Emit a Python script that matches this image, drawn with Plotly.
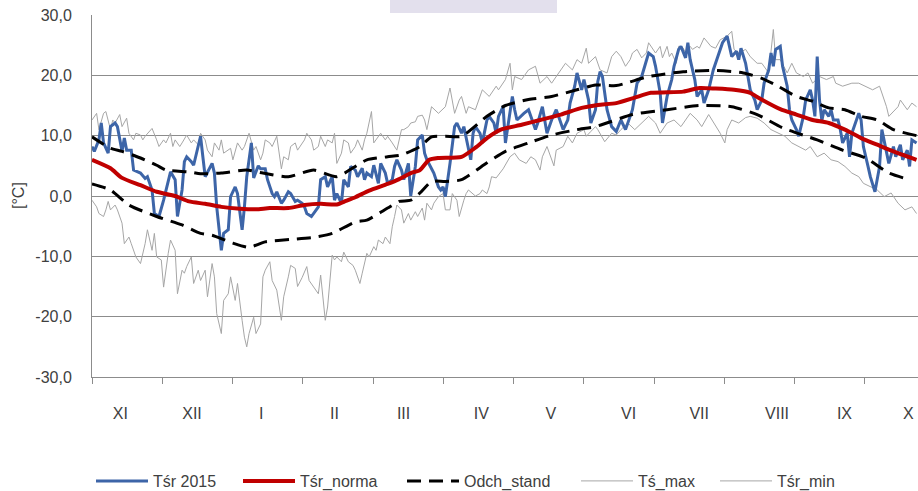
import plotly.graph_objects as go

# ---- data: day of hydrological year (0 = 1 Nov 2014) and temperature [°C] ----
tsr_2015 = [(0, 8.2), (1, 7.4), (3, 9.3), (4, 12.1), (5, 8.8), (7, 7.1), (8, 11.5), (10, 12.1), (11, 11.5),
            (13, 7.4), (14, 9.6), (15, 7.6), (17, 7.6), (18, 4.3), (21, 3.8), (23, 2.9), (24, 3.2), (26, 1.0),
            (27, -2.9), (29, -3.4), (31, -0.7), (34, 4.0), (36, 2.7), (37, -3.4), (39, 1.0), (40, 5.7), (41, 6.5),
            (43, 5.7), (44, 5.1), (47, 9.9), (48, 6.5), (49, 3.2), (52, 5.4), (53, 3.8), (54, -1.8), (56, -9.0),
            (57, -6.2), (59, -5.6), (60, -0.1), (62, 1.5), (63, 0.4), (65, -5.6), (66, -1.8), (67, 3.2), (69, 8.8),
            (70, 3.0), (72, 5.0), (73, 4.5), (75, 4.5), (76, 2.7), (78, 0.4), (79, -0.1), (80, 0.7), (82, -1.2),
            (83, -0.7), (85, 0.7), (86, 0.4), (88, -0.9), (89, -0.7), (91, -1.2), (92, -1.8), (93, -2.9), (95, -3.4),
            (96, -2.9), (98, -1.8), (99, 2.7), (101, 3.2), (102, 1.5), (104, 3.2), (105, -0.7), (106, 0.4),
            (108, -1.2), (109, 2.7), (111, 1.5), (112, 4.9), (114, 4.3), (115, 3.2), (117, 4.6), (118, 2.7),
            (119, 3.8), (121, 3.2), (122, 5.1), (124, 2.1), (125, 5.4), (127, 3.8), (128, 2.1), (130, 2.7),
            (131, 4.9), (132, 6.0), (134, 4.3), (135, 2.7), (137, 5.4), (138, 0.0), (140, 4.9), (141, 9.3),
            (143, 10.1), (144, 7.1), (145, 6.0), (148, 3.8), (150, 1.5), (151, 1.0), (152, 1.5), (153, -0.1),
            (155, 5.4), (157, 11.5), (158, 12.1), (160, 10.4), (161, 11.5), (163, 8.2), (164, 6.0), (165, 10.4),
            (166, 11.5), (168, 10.4), (169, 8.8), (171, 12.6), (172, 13.2), (174, 12.1), (175, 10.4), (176, 13.2),
            (178, 14.8), (179, 8.8), (181, 14.3), (182, 16.5), (183, 14.3), (184, 12.6), (187, 13.7), (189, 14.3),
            (190, 13.2), (192, 11.0), (193, 12.1), (195, 14.8), (196, 12.6), (197, 10.4), (199, 12.6), (201, 14.3),
            (202, 13.2), (204, 11.0), (206, 12.6), (207, 15.4), (209, 18.2), (210, 20.4), (212, 17.6), (213, 19.3),
            (215, 15.9), (216, 12.1), (218, 14.3), (219, 19.0), (220, 20.6), (221, 19.8), (223, 14.3), (225, 11.5),
            (227, 10.7), (229, 12.6), (231, 11.0), (234, 14.3), (236, 18.7), (238, 19.8), (241, 23.7), (243, 23.1),
            (244, 21.5), (246, 17.1), (247, 12.1), (248, 14.3), (249, 16.5), (251, 19.3), (252, 21.5), (254, 24.3),
            (255, 24.8), (257, 22.9), (258, 25.4), (259, 22.6), (261, 19.3), (262, 16.5), (264, 17.6), (265, 15.4),
            (267, 17.6), (269, 20.9), (271, 23.1), (273, 25.4), (275, 26.5), (276, 24.8), (277, 23.1), (279, 24.0),
            (280, 22.6), (281, 24.5), (283, 22.0), (284, 19.8), (285, 17.6), (287, 15.9), (288, 14.3), (290, 15.9),
            (291, 18.7), (293, 20.9), (294, 23.7), (295, 21.5), (296, 24.3), (298, 24.8), (299, 21.5), (301, 18.2),
            (302, 14.3), (303, 12.6), (305, 11.0), (306, 9.9), (308, 13.2), (309, 15.9), (311, 17.6), (312, 15.9),
            (313, 13.2), (314, 23.1), (315, 15.9), (316, 12.5), (317, 14.3), (319, 13.2), (320, 14.3), (321, 12.6),
            (323, 12.6), (324, 11.0), (325, 8.8), (327, 10.4), (328, 6.5), (329, 10.4), (332, 13.7), (333, 12.6),
            (334, 8.2), (336, 4.9), (337, 3.2), (339, 0.7), (340, 3.2), (341, 4.9), (342, 11.0), (344, 7.1),
            (345, 5.4), (347, 8.2), (348, 6.5), (350, 8.5), (351, 6.0), (353, 7.6), (354, 4.9), (355, 9.3),
            (357, 8.8)]

tsr_norma = [(0, 6.0), (8, 4.6), (13, 3.0), (21, 1.8), (28, 0.7), (36, 0.0), (42, -0.9), (49, -1.3), (56, -1.8),
             (64, -2.1), (71, -2.2), (77, -2.0), (85, -2.0), (92, -1.5), (99, -1.3), (106, -1.4), (110, -0.8),
             (114, -0.2), (120, 0.9), (128, 2.0), (133, 2.8), (138, 3.8), (142, 4.3), (146, 6.0), (150, 6.3),
             (160, 6.5), (166, 8.0), (171, 9.6), (177, 11.0), (186, 11.8), (194, 12.6), (203, 13.5), (212, 14.6),
             (219, 15.1), (227, 15.4), (235, 16.3), (242, 17.1), (256, 17.3), (263, 17.9), (270, 17.8), (278, 17.6),
             (285, 17.1), (288, 16.4), (298, 14.4), (305, 13.5), (312, 12.6), (319, 12.1), (326, 11.0), (333, 9.6),
             (340, 8.5), (347, 7.4), (357, 6.0)]

odch_gorne = [(0, 9.8), (8, 7.9), (13, 7.4), (21, 6.3), (28, 5.1), (32, 4.3), (42, 4.0), (47, 3.7), (56, 3.8),
              (67, 4.3), (74, 3.8), (85, 3.2), (96, 4.3), (106, 3.2), (114, 4.9), (119, 6.0), (128, 6.5),
              (134, 6.8), (142, 8.2), (147, 9.8), (153, 9.9), (160, 9.9), (171, 13.2), (179, 15.0), (189, 16.0),
              (199, 16.5), (210, 17.6), (218, 18.4), (227, 18.3), (241, 19.8), (256, 20.6), (270, 20.8),
              (282, 20.4), (290, 19.5), (297, 18.2), (305, 16.5), (312, 15.7), (319, 14.6), (326, 14.3),
              (333, 13.2), (340, 12.6), (347, 11.0), (357, 10.0)]

odch_dolne = [(0, 2.0), (8, 1.0), (16, -1.5), (28, -3.4), (39, -4.8), (47, -6.2), (52, -6.5), (61, -7.8),
              (68, -8.5), (75, -7.6), (86, -7.2), (97, -6.8), (104, -6.2), (114, -4.3), (119, -4.0), (128, -2.0),
              (133, -0.9), (138, -0.7), (142, 0.5), (147, 2.4), (153, 2.4), (160, 2.7), (171, 5.5), (179, 7.4),
              (189, 8.8), (199, 10.1), (210, 11.0), (218, 11.5), (234, 13.5), (249, 14.3), (263, 15.0),
              (277, 14.8), (288, 13.5), (299, 11.3), (314, 9.3), (325, 7.6), (335, 6.3), (345, 3.8), (354, 2.7)]

ts_max = [(0, 12.6), (2, 13.7), (3, 11.0), (5, 13.7), (6, 14.0), (8, 11.0), (9, 12.6), (10, 12.1), (12, 13.5),
          (13, 11.5), (15, 12.9), (16, 10.4), (18, 9.3), (19, 10.4), (21, 10.1), (22, 9.3), (23, 9.9), (26, 11.2),
          (28, 9.3), (29, 8.2), (31, 9.3), (32, 8.8), (34, 10.4), (35, 8.2), (36, 9.3), (38, 8.2), (39, 8.8),
          (41, 10.1), (43, 8.8), (44, 9.3), (46, 8.5), (47, 10.4), (49, 9.3), (50, 7.6), (52, 6.5), (53, 8.8),
          (55, 7.6), (56, 9.3), (57, 7.1), (60, 7.9), (61, 6.0), (63, 8.8), (65, 7.6), (66, 8.2), (68, 10.4),
          (70, 7.6), (71, 8.2), (73, 6.0), (74, 7.1), (75, 9.3), (77, 8.8), (78, 8.2), (80, 9.9), (82, 4.5),
          (83, 6.5), (85, 6.0), (86, 8.2), (88, 8.8), (89, 7.6), (91, 8.8), (92, 9.3), (93, 10.4), (95, 9.3),
          (96, 7.6), (98, 8.2), (99, 9.9), (101, 8.2), (102, 9.3), (104, 8.8), (105, 10.4), (106, 5.4), (108, 7.1),
          (109, 9.3), (111, 8.8), (112, 7.1), (114, 8.2), (115, 9.3), (117, 7.6), (118, 9.3), (119, 10.4),
          (121, 14.0), (122, 8.8), (124, 9.9), (125, 10.4), (127, 9.3), (128, 9.9), (130, 8.8), (131, 8.2),
          (132, 7.6), (134, 11.0), (135, 11.0), (137, 11.5), (138, 12.1), (140, 12.3), (141, 13.2), (143, 13.4),
          (144, 12.6), (145, 11.0), (147, 14.8), (150, 13.7), (153, 14.8), (155, 17.9), (157, 13.7), (159, 15.9),
          (160, 16.5), (162, 13.7), (163, 14.8), (166, 14.3), (169, 17.6), (172, 16.5), (175, 18.2), (176, 17.6),
          (179, 19.3), (181, 22.0), (182, 17.6), (183, 19.8), (186, 19.3), (189, 20.9), (192, 21.5), (194, 18.7),
          (197, 19.8), (199, 18.7), (202, 20.4), (205, 22.0), (208, 20.9), (210, 22.6), (212, 22.0), (214, 24.5),
          (215, 22.0), (218, 23.1), (220, 20.9), (223, 20.4), (225, 23.1), (227, 24.0), (229, 23.1), (231, 21.5),
          (233, 22.6), (234, 23.7), (236, 24.3), (238, 22.9), (240, 23.7), (241, 25.4), (244, 23.7), (246, 24.8),
          (247, 22.9), (249, 24.8), (250, 23.1), (251, 23.7), (253, 22.0), (254, 24.8), (256, 24.5), (257, 23.7),
          (259, 24.8), (260, 24.3), (262, 24.8), (263, 24.5), (265, 26.2), (268, 24.8), (270, 24.5), (272, 25.9),
          (275, 26.5), (277, 27.3), (278, 24.3), (280, 23.7), (283, 24.3), (285, 23.1), (288, 22.0), (290, 22.0),
          (293, 20.4), (294, 23.7), (295, 27.6), (296, 22.6), (298, 22.6), (301, 20.4), (303, 22.0), (305, 20.4),
          (308, 19.8), (310, 20.4), (312, 18.7), (315, 19.8), (318, 19.3), (321, 19.8), (322, 18.7), (325, 18.2),
          (329, 18.7), (332, 18.7), (335, 18.2), (338, 17.6), (341, 18.2), (344, 14.8), (345, 13.2), (348, 14.3),
          (349, 14.8), (350, 15.9), (353, 14.3), (355, 15.4), (357, 14.8)]

tsr_min = [(0, -0.7), (2, -1.8), (3, -2.9), (5, -3.4), (6, -2.3), (7, -0.9), (8, -2.3), (10, -1.5), (11, -2.3),
           (13, -4.5), (14, -7.9), (16, -6.8), (17, -7.9), (19, -10.1), (21, -11.2), (23, -7.9), (24, -5.6),
           (26, -9.0), (27, -6.2), (28, -10.1), (30, -10.6), (31, -15.1), (33, -9.5), (34, -7.3), (36, -9.0),
           (37, -16.2), (39, -12.3), (40, -12.8), (41, -11.7), (43, -10.1), (44, -14.5), (46, -12.3), (47, -14.0),
           (49, -12.3), (50, -16.7), (52, -11.2), (53, -13.4), (54, -19.5), (56, -22.8), (57, -17.3), (59, -16.2),
           (60, -13.4), (62, -17.3), (63, -14.5), (65, -20.6), (66, -23.4), (67, -25.0), (68, -22.8), (70, -20.1),
           (71, -22.8), (73, -21.2), (74, -13.4), (75, -12.3), (77, -10.9), (78, -14.0), (80, -15.6), (82, -20.6),
           (83, -16.7), (85, -13.4), (86, -11.5), (88, -12.0), (89, -15.0), (91, -13.5), (93, -11.7), (94, -14.0),
           (96, -15.1), (98, -16.2), (99, -13.1), (101, -20.6), (102, -18.4), (104, -9.8), (105, -10.6),
           (106, -10.1), (108, -10.9), (109, -9.3), (111, -10.9), (113, -11.5), (114, -12.3), (116, -14.5),
           (117, -12.8), (119, -9.5), (120, -10.1), (122, -8.4), (123, -9.0), (124, -7.3), (126, -7.9), (127, -6.8),
           (129, -7.9), (130, -5.1), (131, -3.4), (132, -1.5), (134, -2.3), (135, -4.5), (137, -2.9), (138, -4.0),
           (140, -2.6), (141, -3.4), (143, -2.0), (144, -4.0), (145, -1.2), (147, -2.3), (148, -1.2), (150, -0.1),
           (152, 0.4), (153, -2.3), (155, -2.3), (156, 0.4), (158, -0.7), (159, -3.4), (161, -0.7), (162, 0.4),
           (163, 1.0), (166, 0.0), (168, 0.4), (169, 1.0), (171, 0.4), (172, 1.5), (173, 3.2), (175, 3.0),
           (178, 4.5), (181, 6.5), (183, 7.1), (185, 6.0), (188, 5.4), (190, 6.5), (192, 6.0), (194, 4.3),
           (195, 6.5), (197, 8.2), (200, 5.0), (201, 7.6), (204, 8.2), (206, 9.9), (208, 8.8), (210, 10.4),
           (213, 11.0), (214, 9.9), (216, 10.7), (218, 11.5), (219, 11.0), (222, 9.0), (225, 10.4), (227, 10.1),
           (229, 11.0), (232, 12.1), (235, 11.0), (238, 12.1), (241, 13.2), (244, 12.1), (246, 10.4), (249, 12.1),
           (252, 12.6), (255, 11.5), (258, 13.2), (259, 13.7), (262, 12.6), (264, 11.5), (267, 13.5), (270, 11.5),
           (272, 10.4), (274, 8.8), (275, 11.0), (277, 12.6), (280, 12.1), (283, 13.0), (285, 13.2), (288, 12.9),
           (291, 12.1), (294, 11.0), (297, 10.4), (300, 9.9), (303, 8.8), (306, 8.2), (309, 7.6), (311, 8.2),
           (314, 6.5), (317, 7.1), (320, 6.0), (323, 5.7), (326, 4.9), (329, 3.8), (332, 3.2), (334, 2.1),
           (337, 1.5), (340, 1.0), (343, -0.1), (346, 0.5), (349, -1.2), (352, -2.3), (355, -1.8), (357, -2.9)]

month_labels = ["XI", "XII", "I", "II", "III", "IV", "V", "VI", "VII", "VIII", "IX", "X"]
month_label_days = [12.3, 43.3, 73.3, 105.0, 134.9, 168.6, 198.7, 232.3, 262.9, 296.6, 325.8, 353.5]
y_ticks = [-30, -20, -10, 0, 10, 20, 30]
y_tick_labels = ["-30,0", "-20,0", "-10,0", "0,0", "10,0", "20,0", "30,0"]
days_in_year = 365


def xs(series):
    return [p[0] for p in series]


def ys(series):
    return [p[1] for p in series]


FONT = "Liberation Sans, Arial, sans-serif"
TXT = "#404040"
GRID = "#8c8c8c"

W, H = 918, 491
L, R, T, B = 92, 0, 15, 114
plot_w = W - L - R
plot_h = H - T - B
x_max = plot_w / (843.0 / days_in_year)

fig = go.Figure()

fig.add_trace(go.Scatter(x=xs(ts_max), y=ys(ts_max), mode="lines", name="Tś_max",
                         line=dict(color="#a6a6a6", width=1), legend="legend4"))
fig.add_trace(go.Scatter(x=xs(tsr_min), y=ys(tsr_min), mode="lines", name="Tśr_min",
                         line=dict(color="#a6a6a6", width=1), legend="legend5"))
fig.add_trace(go.Scatter(x=xs(tsr_2015), y=ys(tsr_2015), mode="lines", name="Tśr 2015",
                         line=dict(color="#3d65a8", width=3), legend="legend"))
fig.add_trace(go.Scatter(x=xs(tsr_norma), y=ys(tsr_norma), mode="lines", name="Tśr_norma",
                         line=dict(color="#c00000", width=4, shape="spline", smoothing=0.6), legend="legend2"))
fig.add_trace(go.Scatter(x=xs(odch_gorne), y=ys(odch_gorne), mode="lines", name="Odch_stand",
                         legendgroup="odch", legend="legend3",
                         line=dict(color="black", width=3, dash="14px,8px", shape="spline", smoothing=0.6)))
fig.add_trace(go.Scatter(x=xs(odch_dolne), y=ys(odch_dolne), mode="lines", name="Odch_stand",
                         legendgroup="odch", showlegend=False, legend="legend3",
                         line=dict(color="black", width=3, dash="14px,8px", shape="spline", smoothing=0.6)))

month_len = days_in_year / 12

legend_y = (T + plot_h - 481) / plot_h
legend_starts = [91, 238, 402, 576, 715]


def legend_cfg(px):
    return dict(orientation="h", x=(px - L) / plot_w, xanchor="left", y=legend_y, yanchor="middle",
                font=dict(family=FONT, size=16, color=TXT), itemwidth=52,
                bgcolor="rgba(0,0,0,0)", borderwidth=0)


fig.update_layout(
    width=W, height=H,
    margin=dict(l=L, r=R, t=T, b=B, pad=0, autoexpand=False),
    paper_bgcolor="white", plot_bgcolor="white",
    font=dict(family=FONT, size=16, color=TXT),
    showlegend=True,
    legend=legend_cfg(legend_starts[0]),
    legend2=legend_cfg(legend_starts[1]),
    legend3=legend_cfg(legend_starts[2]),
    legend4=legend_cfg(legend_starts[3]),
    legend5=legend_cfg(legend_starts[4]),
    xaxis=dict(range=[0, x_max], showgrid=False, zeroline=False, automargin=False,
               showline=True, linecolor=GRID, linewidth=1,
               tickmode="array", tickvals=month_label_days, ticktext=month_labels,
               ticks="", ticklabelstandoff=22,
               tickfont=dict(family=FONT, size=16, color=TXT),
               minor=dict(tick0=0, dtick=month_len, ticks="outside", ticklen=6,
                          tickcolor=GRID, showgrid=False)),
    yaxis=dict(range=[-30, 30], tickmode="array", tickvals=y_ticks, ticktext=y_tick_labels,
               showgrid=True, gridcolor=GRID, gridwidth=1, zeroline=False, automargin=False,
               showline=True, linecolor=GRID, linewidth=1,
               ticks="", ticklabelstandoff=16,
               tickfont=dict(family=FONT, size=16, color=TXT)),
    shapes=[dict(type="rect", xref="paper", yref="paper",
                 x0=(390 - L) / plot_w, x1=(557 - L) / plot_w,
                 y0=(T + plot_h - 13) / plot_h, y1=(T + plot_h) / plot_h,
                 fillcolor="#e3e0ed", line=dict(width=0), layer="above")],
    annotations=[dict(text="[°C]", xref="paper", yref="paper",
                      x=(18 - L) / plot_w, y=0.5, textangle=-90, showarrow=False,
                      xanchor="center", yanchor="middle",
                      font=dict(family=FONT, size=16, color=TXT))],
)

fig.write_html("out.html", config={"displayModeBar": False},
               post_script="document.body.style.margin='0';document.body.style.overflow='hidden';")
